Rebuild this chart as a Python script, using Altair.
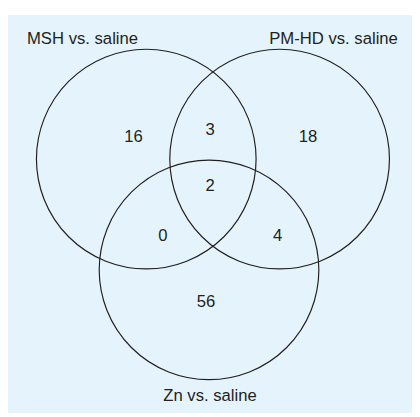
import altair as alt
import pandas as pd

# Venn sets
set_names = ["MSH vs. saline", "PM-HD vs. saline", "Zn vs. saline"]
circle_cx = [149, 285, 213]
circle_cy = [158, 158, 271]
circle_r = [112, 112, 112]

label_x = [84, 340, 214]
label_y = [41, 41, 405]

# region counts
region_names = ["MSH only", "MSH & PM-HD", "PM-HD only", "all three", "MSH & Zn", "PM-HD & Zn", "Zn only"]
region_counts = [16, 3, 18, 2, 0, 4, 56]
region_x = [136, 214, 314, 214, 166, 283, 210]
region_y = [136, 128, 136, 186, 237, 237, 304]

W, H = 412, 406
X0, Y0 = 8, 11

circles = pd.DataFrame({
    "name": set_names,
    "cx": circle_cx,
    "cy": circle_cy,
    "size": [(2 * r) ** 2 for r in circle_r],
})
labels = pd.DataFrame({"name": set_names, "x": label_x, "y": label_y})
regions = pd.DataFrame({"region": region_names, "count": region_counts, "x": region_x, "y": region_y})

xs = alt.Scale(domain=[X0, X0 + W], nice=False, zero=False)
ys = alt.Scale(domain=[Y0, Y0 + H], nice=False, zero=False, reverse=True)

circ = alt.Chart(circles).mark_point(
    shape="circle", filled=False, stroke="#231F20", strokeWidth=1.2, opacity=1
).encode(
    x=alt.X("cx:Q", scale=xs, axis=None),
    y=alt.Y("cy:Q", scale=ys, axis=None),
    size=alt.Size("size:Q", scale=None),
)

lab = alt.Chart(labels).mark_text(
    font="Liberation Sans", fontSize=17, color="#231F20", baseline="alphabetic", align="center"
).encode(
    x=alt.X("x:Q", scale=xs, axis=None),
    y=alt.Y("y:Q", scale=ys, axis=None),
    text="name:N",
)

nums = alt.Chart(regions).mark_text(
    font="Liberation Sans", fontSize=17, color="#231F20", baseline="middle", align="center"
).encode(
    x=alt.X("x:Q", scale=xs, axis=None),
    y=alt.Y("y:Q", scale=ys, axis=None),
    text="count:Q",
)

chart = alt.layer(circ, lab, nums).properties(
    width=W, height=H,
    padding={"top": 3, "left": 0, "right": 0, "bottom": 0},
    autosize=alt.AutoSizeParams(type="none"),
    background="white",
).configure_view(stroke=None, fill="#E5F4FC")

chart.save("out.html", embed_options={"renderer": "svg", "actions": False})
